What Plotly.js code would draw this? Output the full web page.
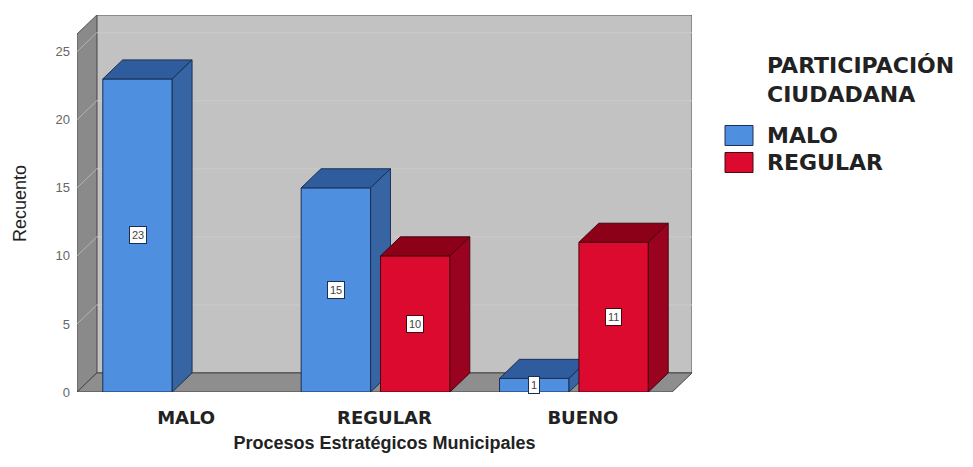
<!DOCTYPE html>
<html><head><meta charset="utf-8">
<script src="https://cdn.plot.ly/plotly-3.0.1.min.js"></script>
<style>html,body{margin:0;padding:0;background:#fff}</style>
</head><body><div id="chart" style="width:973px;height:467px"></div>
<script>
// ---- data ----
const categories = ['MALO', 'REGULAR', 'BUENO'];
const seriesNames = ['MALO', 'REGULAR'];
const maloValues = [23, 15, 1];
const regularValues = [0, 10, 11];
const yTicks = [0, 5, 10, 15, 20, 25];
const legendTitle = 'PARTICIPACIÓN<br>CIUDADANA';
const xTitle = 'Procesos Estratégicos Municipales';
const yTitle = 'Recuento';

// ---- geometry / style ----
const X0 = -0.5, X1 = 2.5;      // front plane extent (category units)
const DX = 0.1, DY = 1.4;       // 3D depth offset
const YMAX = 27.7;
const BAR_W = 0.35;
const xs = categories.map((c, i) => i);

const series = [
  {name: seriesNames[0], values: maloValues, offset: -0.37, front: '#4f8fdf', top: '#2f5c9c', side: '#3764a3', line: '#1b2f55', ax: ['x', 'y']},
  {name: seriesNames[1], values: regularValues, offset: 0.03, front: '#dc0a2e', top: '#8c0018', side: '#9a0320', line: '#4a0410', ax: ['x2', 'y2']}
];

const traces = [];
const annotations = [];
series.forEach(s => {
  traces.push({
    type: 'bar', x: xs, y: s.values, offset: s.offset, width: BAR_W,
    marker: {color: s.front, line: {color: s.line, width: s.values.map(v => v ? 1 : 0)}},
    xaxis: s.ax[0], yaxis: s.ax[1], showlegend: false, hoverinfo: 'skip', name: s.name
  });
  s.values.forEach((v, i) => {
    if (!v) return;
    const l = xs[i] + s.offset, r = l + BAR_W;
    traces.push({
      type: 'scatter', mode: 'lines', fill: 'toself', fillcolor: s.top,
      x: [l, r, r + DX, l + DX, l], y: [v, v, v + DY, v + DY, v],
      line: {color: s.line, width: 1}, xaxis: s.ax[0], yaxis: s.ax[1], showlegend: false, hoverinfo: 'skip'
    });
    traces.push({
      type: 'scatter', mode: 'lines', fill: 'toself', fillcolor: s.side,
      x: [r, r + DX, r + DX, r, r], y: [0, DY, v + DY, v, 0],
      line: {color: s.line, width: 1}, xaxis: s.ax[0], yaxis: s.ax[1], showlegend: false, hoverinfo: 'skip'
    });
    annotations.push({
      x: xs[i] + s.offset + BAR_W / 2, y: v / 2, xref: 'x', yref: 'y',
      text: String(v), showarrow: false, bgcolor: '#ffffff', bordercolor: s.line,
      borderwidth: 1, borderpad: 2, font: {family: 'Liberation Sans', size: 11, color: '#444'}
    });
  });
});

// walls
const shapes = [
  {type: 'rect', layer: 'below', xref: 'x', yref: 'y', x0: X0 + DX, x1: X1 + DX, y0: DY, y1: YMAX,
   fillcolor: '#c2c2c2', line: {color: '#555', width: 1}},
  {type: 'path', layer: 'below', xref: 'x', yref: 'y',
   path: `M${X0},0 L${X0},${YMAX - DY} L${X0 + DX},${YMAX} L${X0 + DX},${DY} Z`,
   fillcolor: '#8a8a8a', line: {color: '#555', width: 1}},
  {type: 'path', layer: 'below', xref: 'x', yref: 'y',
   path: `M${X0},0 L${X1},0 L${X1 + DX},${DY} L${X0 + DX},${DY} Z`,
   fillcolor: '#8e8e8e', line: {color: '#444', width: 1}}
];
yTicks.forEach(t => {
  if (!t) return;
  shapes.push({type: 'line', layer: 'below', xref: 'x', yref: 'y', x0: X0, y0: t, x1: X0 + DX, y1: t + DY,
    line: {color: '#b4b4b4', width: 1}});
  shapes.push({type: 'line', layer: 'below', xref: 'x', yref: 'y', x0: X0 + DX, y0: t + DY, x1: X1 + DX, y1: t + DY,
    line: {color: '#cacaca', width: 1}});
});

// manual legend
const legFont = {family: 'DejaVu Sans', size: 22, color: '#222', weight: 'bold'};
annotations.push({xref: 'paper', yref: 'paper', x: 1.1187, y: 0.8276, xanchor: 'left', yanchor: 'middle',
  align: 'left', text: legendTitle, showarrow: false, font: legFont});
const legY = [0.6804, 0.6088];
series.forEach((s, k) => {
  shapes.push({type: 'rect', xref: 'paper', yref: 'paper', x0: 1.0537, x1: 1.0992,
    y0: legY[k] - 0.0265, y1: legY[k] + 0.0265, fillcolor: s.front, line: {color: s.line, width: 1}});
  annotations.push({xref: 'paper', yref: 'paper', x: 1.1187, y: legY[k], xanchor: 'left', yanchor: 'middle',
    text: s.name, showarrow: false, font: legFont});
});

const layout = {
  width: 973, height: 467,
  margin: {l: 77, r: 281, t: 15, b: 75, autoexpand: false},
  paper_bgcolor: '#ffffff', plot_bgcolor: '#ffffff',
  showlegend: false, barmode: 'overlay',
  xaxis: {
    range: [X0, X1 + DX], tickvals: xs.map(i => i + DX / 2), ticktext: categories,
    showgrid: false, zeroline: false, showline: false, ticks: '', ticklabelstandoff: 13,
    tickfont: {family: 'DejaVu Sans', size: 18, color: '#222', weight: 'bold'},
    title: {text: xTitle, standoff: 9, font: {family: 'Liberation Sans', size: 18, color: '#222', weight: 'bold'}}
  },
  yaxis: {
    range: [0, YMAX], tickvals: yTicks, showgrid: false, zeroline: false, showline: false, ticks: '',
    ticklabelstandoff: 6,
    tickfont: {family: 'Liberation Sans', size: 13, color: '#666'},
    title: {text: yTitle, standoff: 24, font: {family: 'Liberation Sans', size: 18, color: '#222'}}
  },
  xaxis2: {overlaying: 'x', range: [X0, X1 + DX], visible: false},
  yaxis2: {overlaying: 'y', range: [0, YMAX], visible: false},
  shapes: shapes, annotations: annotations
};

Plotly.newPlot('chart', traces, layout, {staticPlot: true, displayModeBar: false});
</script></body></html>
